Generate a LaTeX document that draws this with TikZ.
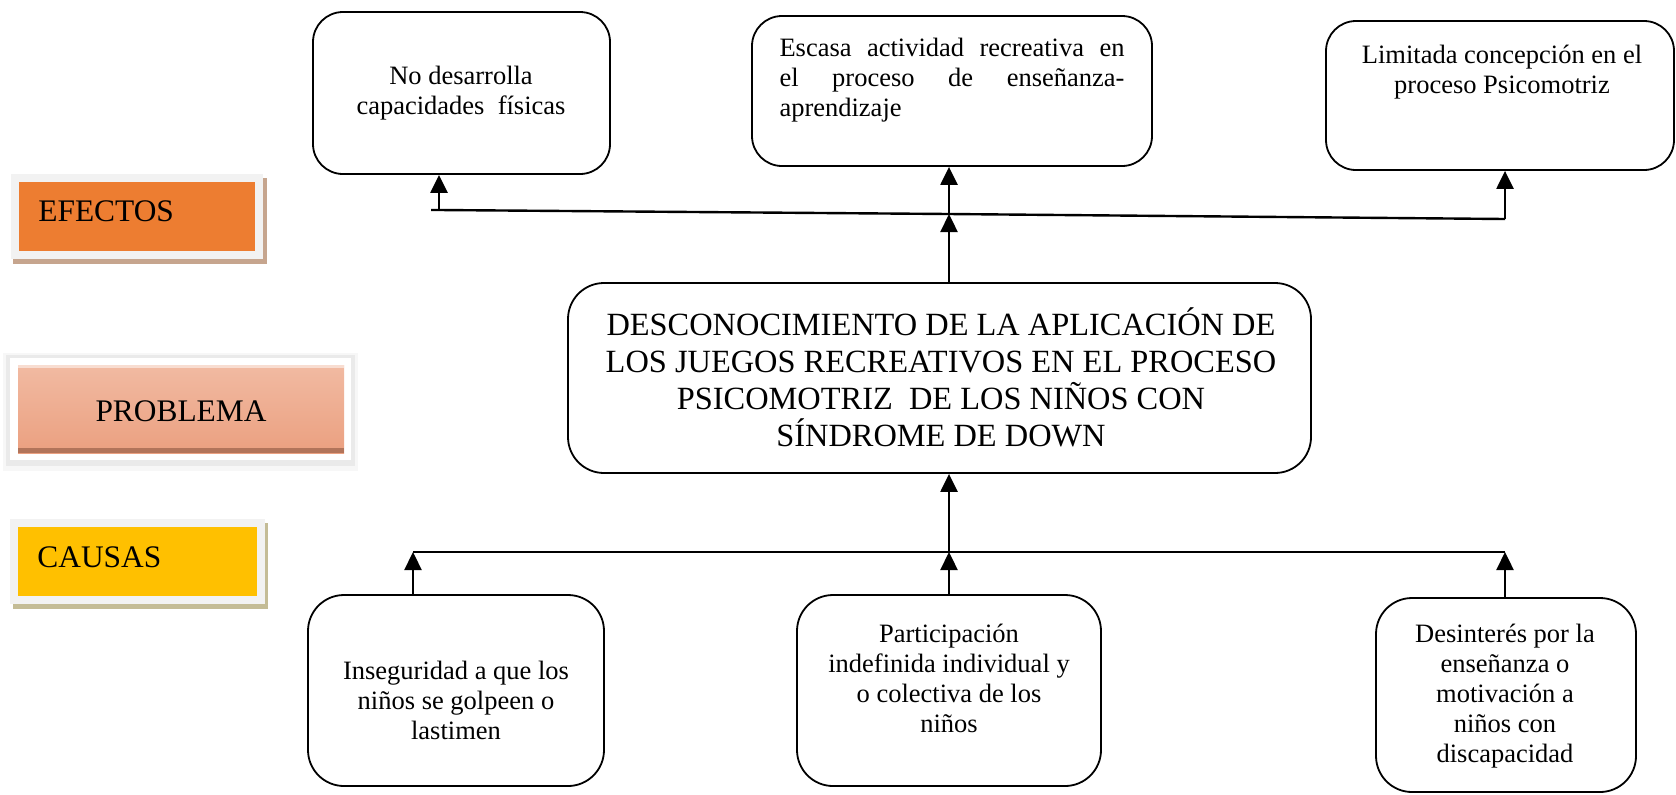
\documentclass[tikz,border=0pt]{standalone}
\usepackage{fontspec}
\setmainfont{Liberation Serif}
\usetikzlibrary{arrows.meta}
\definecolor{efectosfill}{RGB}{237,125,49}
\definecolor{efectosshadow}{RGB}{198,165,142}
\definecolor{causasfill}{RGB}{255,192,0}
\definecolor{causasshadow}{RGB}{196,188,150}
\definecolor{framegray}{RGB}{242,242,242}
\definecolor{problemtop}{RGB}{241,186,162}
\definecolor{problembottom}{RGB}{235,160,128}
\definecolor{problemedge}{RGB}{178,116,90}

\begin{document}
\begin{tikzpicture}[x=0.5pt, y=-0.5pt,
    box/.style={draw, line width=0.9pt, rounded corners=15pt},
    bigbox/.style={box, rounded corners=18pt},
    smalltext/.style={align=center, font=\fontsize{13.25}{15}\selectfont},
    bigtext/.style={align=center, font=\fontsize{16.2}{18.5}\selectfont},
    tagtext/.style={anchor=base west, inner sep=0pt, font=\fontsize{15.7}{18}\selectfont},
    link/.style={line width=1.2pt},
    arr/.style={link, -{Triangle[length=9pt, width=8.5pt]}}]
    \useasboundingbox (0,0) rectangle (1676,794);

    % EFECTOS
    \fill[efectosshadow] (13,178) rectangle (267,264);
    \fill[framegray] (11,174) rectangle (263,259);
    \fill[efectosfill] (19,182) rectangle (255,251);
    \node[tagtext] (efectos) at (38,221) {EFECTOS};

    % PROBLEMA
    \fill[black, opacity=0.03] (3,353) rectangle (358,471);
    \fill[black, opacity=0.05] (6,355) rectangle (355,466);
    \fill[white] (10,358) rectangle (351,460);
    \shade[top color=problemtop, bottom color=problembottom] (18,365) rectangle (344,453);
    \fill[problemtop!50!white] (18,365) rectangle (344,368);
    \fill[problemedge] (18,448) rectangle (344,453);
    \node[tagtext, anchor=base] (problema) at (181,421) {PROBLEMA};

    % CAUSAS
    \fill[causasshadow] (13,523) rectangle (268,609);
    \fill[framegray] (10,519) rectangle (265,604);
    \fill[causasfill] (18,527) rectangle (257,596);
    \node[tagtext] (causas) at (37,567) {CAUSAS};

    % efectos
    \node[box, minimum width=148.5pt, minimum height=81pt] (ef1) at (461.5,93) {};
    \node[smalltext] (ef1t) at (461,93) {No desarrolla\\capacidades\ \ físicas};
    \node[box, minimum width=200pt, minimum height=75pt] (ef2) at (952,91) {};
    \node[smalltext, align=justify, text width=172.5pt] (ef2t) at (952,80)
        {Escasa actividad recreativa en\linebreak el proceso de enseñanza-\linebreak aprendizaje};
    \node[box, minimum width=174pt, minimum height=74.5pt] (ef3) at (1500,95.5) {};
    \node[smalltext] (ef3t) at (1502,72) {Limitada concepción en el\\proceso Psicomotriz};

    % problema
    \node[bigbox, minimum width=371.5pt, minimum height=95pt] (pr) at (939.5,378) {};
    \node[bigtext] (prt) at (941,377) {DESCONOCIMIENTO DE LA APLICACIÓN DE\\LOS JUEGOS RECREATIVOS EN EL PROCESO\\PSICOMOTRIZ\ \ DE LOS NIÑOS CON\\SÍNDROME DE DOWN};

    % causas
    \node[bigbox, minimum width=148pt, minimum height=95.5pt] (ca1) at (456,690.5) {};
    \node[smalltext] (ca1t) at (456,700) {Inseguridad a que los\\niños se golpeen o\\lastimen};
    \node[bigbox, minimum width=152pt, minimum height=95.5pt] (ca2) at (949,690.5) {};
    \node[smalltext] (ca2t) at (949,678) {Participación\\indefinida individual y\\o colectiva de los\\niños};
    \node[bigbox, minimum width=130pt, minimum height=97pt] (ca3) at (1506,695) {};
    \node[smalltext] (ca3t) at (1505,696) {Desinterés por la\\enseñanza o\\motivación a\\niños con\\discapacidad};

    % arrows up to the effects
    \coordinate (el) at (431,210);
    \coordinate (e1) at (439,210);
    \coordinate (e2) at (949,214);
    \coordinate (e3) at (1505,219);
    \draw[link] (el) -- (e1) -- (e2) -- (e3);
    \draw[arr] (e1) -- (e1 |- ef1.south);
    \draw[arr] (e2) -- (e2 |- ef2.south);
    \draw[arr] (e3) -- (e3 |- ef3.south);
    \draw[arr] (e2 |- pr.north) -- (e2);

    % arrows up from the causes
    \coordinate (c1) at (413,552);
    \coordinate (c2) at (949,552);
    \coordinate (c3) at (1505,552);
    \draw[link] (c1) -- (c3);
    \draw[arr] (c1 |- ca1.north) -- (c1);
    \draw[arr] (c2 |- ca2.north) -- (c2);
    \draw[arr] (c3 |- ca3.north) -- (c3);
    \draw[arr] (c2) -- (c2 |- pr.south);
\end{tikzpicture}
\end{document}
